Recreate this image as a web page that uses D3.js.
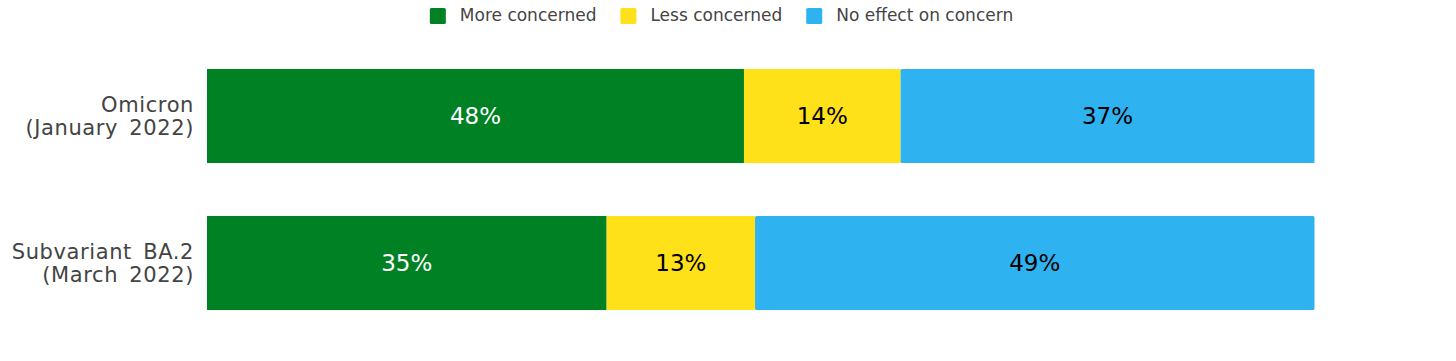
<!DOCTYPE html>
<html><head><meta charset="utf-8">
<script src="https://cdn.jsdelivr.net/npm/d3@7"></script>
<style>body{margin:0;background:#fff}svg{display:block}</style>
</head><body>
<svg id="c" width="1456" height="361"></svg>
<script>
const categories = [["Omicron","(January 2022)"],["Subvariant BA.2","(March 2022)"]];
const seriesNames = ["More concerned","Less concerned","No effect on concern"];
const moreConcerned = [48, 35];
const lessConcerned = [14, 13];
const noEffect = [37, 49];
const colors = ["#008224","#FFE119","#2EB2F0"];
const textColors = ["#ffffff","#000000","#000000"];

const svg = d3.select("#c");
const font = "DejaVu Sans, Verdana, sans-serif";
const rows = categories.map((c,i)=>({key:i, vals:[moreConcerned[i],lessConcerned[i],noEffect[i]]}));

const x = d3.scaleLinear().domain([0,1]).range([207,1314.5]);
const y = d3.scaleBand().domain(rows.map(r=>r.key)).range([42.5,336.5]).paddingInner(0.36).paddingOuter(0.18);

rows.forEach(r=>{
  const tot = d3.sum(r.vals);
  let acc = 0;
  const g = svg.append("g");
  r.vals.forEach((v,j)=>{
    const x0 = x(acc/tot), x1 = x((acc+v)/tot);
    g.append("rect").attr("x",x0).attr("y",y(r.key)).attr("width",x1-x0).attr("height",y.bandwidth())
      .attr("fill",colors[j]).attr("rx", j===2?1.5:0);
    g.append("text").attr("x",(x0+x1)/2).attr("y",y(r.key)+y.bandwidth()/2).attr("dy","0.36em")
      .attr("text-anchor","middle").attr("font-family",font).attr("font-size",23).attr("fill",textColors[j])
      .text(v+"%");
    acc += v;
  });
  const t = svg.append("text").attr("text-anchor","end").attr("font-family",font).attr("font-size",21)
    .attr("letter-spacing",0.6).attr("word-spacing",4).attr("fill","#444");
  const cy = y(r.key)+y.bandwidth()/2;
  categories[r.key].forEach((line,k)=>{
    t.append("tspan").attr("x",194).attr("y",cy + (k-0.5)*23).attr("dy","0.36em").text(line);
  });
});

// legend
const lg = svg.append("g");
let lx = 0;
seriesNames.forEach((n,i)=>{
  const it = lg.append("g").attr("transform",`translate(${lx},0)`);
  it.append("rect").attr("x",0).attr("y",8).attr("width",16).attr("height",16).attr("rx",1.5).attr("fill",colors[i]);
  const tx = it.append("text").attr("x",30).attr("y",21).attr("font-family",font)
    .attr("font-size",17).attr("fill","#444").text(n);
  const w = tx.node().getComputedTextLength();
  lx += 30 + w + 24;
});
const totalW = lx - 24;
lg.attr("transform",`translate(${721.5 - totalW/2},0)`);
</script>
</body></html>
